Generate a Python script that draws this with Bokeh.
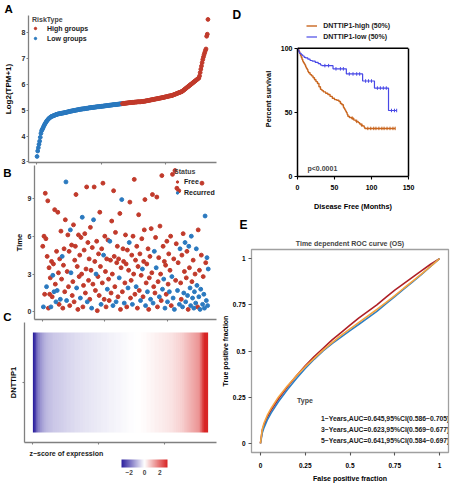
import math
import numpy as np
from bokeh.plotting import figure
from bokeh.layouts import row, column
from bokeh.models import (Range1d, FixedTicker, Legend, LegendItem, Label, Title, Span, Plot,
                          LinearAxis, ColorBar, LinearColorMapper, ColumnDataSource)
from bokeh.embed import file_html
from bokeh.resources import INLINE

FONT = "Liberation Sans"

# ---------------- Panel A: sorted DNTTIP1 expression ----------------
expr_values = [
    3.21, 3.42, 3.55, 3.68, 3.80, 3.95, 4.10, 4.20, 4.25, 4.30,
    4.36, 4.41, 4.46, 4.50, 4.54, 4.58, 4.61, 4.64, 4.67, 4.69,
    4.71, 4.73, 4.75, 4.76, 4.77, 4.78, 4.79, 4.80, 4.81, 4.82,
    4.83, 4.84, 4.85, 4.85, 4.86, 4.86, 4.87, 4.87, 4.88, 4.88,
    4.89, 4.89, 4.90, 4.90, 4.91, 4.91, 4.92, 4.93, 4.93, 4.94,
    4.95, 4.95, 4.96, 4.96, 4.97, 4.97, 4.98, 4.98, 4.99, 4.99,
    5.00, 5.00, 5.01, 5.01, 5.02, 5.02, 5.03, 5.03, 5.04, 5.04,
    5.04, 5.05, 5.05, 5.05, 5.06, 5.06, 5.07, 5.07, 5.07, 5.08,
    5.08, 5.09, 5.09, 5.09, 5.10, 5.10, 5.10, 5.11, 5.11, 5.11,
    5.12, 5.12, 5.12, 5.13, 5.13, 5.13, 5.13, 5.14, 5.14, 5.14,
    5.15, 5.15, 5.15, 5.16, 5.16, 5.16, 5.17, 5.17, 5.17, 5.18,
    5.18, 5.18, 5.19, 5.19, 5.19, 5.20, 5.20, 5.20, 5.21, 5.21,
    5.21, 5.21, 5.22, 5.22, 5.22, 5.23, 5.23, 5.23, 5.24, 5.24,
    5.24, 5.25, 5.25, 5.25, 5.26, 5.26, 5.26, 5.27, 5.27, 5.27,
    5.28, 5.28, 5.28, 5.29, 5.29, 5.29, 5.29, 5.30, 5.30, 5.30,
    5.30, 5.31, 5.31, 5.31, 5.31, 5.32, 5.32, 5.32, 5.32, 5.32,
    5.32, 5.33, 5.33, 5.33, 5.34, 5.34, 5.34, 5.35, 5.35, 5.36,
    5.36, 5.37, 5.37, 5.38, 5.38, 5.39, 5.39, 5.40, 5.40, 5.41,
    5.41, 5.42, 5.42, 5.43, 5.43, 5.44, 5.44, 5.45, 5.45, 5.46,
    5.46, 5.47, 5.47, 5.48, 5.48, 5.49, 5.49, 5.50, 5.51, 5.51,
    5.52, 5.52, 5.53, 5.54, 5.54, 5.55, 5.55, 5.56, 5.56, 5.57,
    5.58, 5.59, 5.60, 5.61, 5.62, 5.63, 5.64, 5.65, 5.66, 5.67,
    5.68, 5.69, 5.70, 5.71, 5.72, 5.74, 5.76, 5.78, 5.80, 5.82,
    5.84, 5.86, 5.88, 5.90, 5.92, 5.94, 5.96, 5.98, 6.00, 6.02,
    6.04, 6.06, 6.08, 6.10, 6.12, 6.14, 6.16, 6.18, 6.20, 6.22,
    6.24, 6.32, 6.45, 6.58, 6.70, 6.83, 6.95, 7.05, 7.14, 7.22,
    7.30, 7.36, 7.85, 7.93, 8.50,
]
n_low_group = 132
risk_labels = ["High groups", "Low groups"]
risk_title = "RiskType"
expr_ticks = [3, 4, 5, 6, 7, 8]
rank_ticks = [0, 100, 200]

# ---------------- Panel B: follow-up time and status ----------------
time_values = [
    5.2, 0.4, 6.0, 1.4, 9.4, 5.8, 2.0, 4.4, 8.8, 0.3,
    3.5, 1.4, 2.7, 0.4, 4.0, 1.2, 2.9, 3.8, 1.6, 8.1,
    2.2, 0.8, 4.8, 1.7, 7.9, 3.1, 0.6, 4.2, 1.0, 6.4,
    2.6, 4.4, 0.3, 3.7, 5.0, 1.6, 7.3, 10.3, 0.9, 3.2,
    6.1, 2.0, 4.8, 0.5, 6.5, 3.1, 5.3, 1.3, 2.4, 6.9,
    0.8, 4.1, 5.2, 9.3, 1.9, 3.6, 0.2, 6.1, 2.8, 4.5,
    1.1, 5.9, 3.0, 7.5, 0.4, 2.1, 4.9, 6.2, 1.5, 3.4,
    9.9, 0.8, 5.5, 2.5, 4.2, 1.0, 6.7, 3.3, 0.3, 5.1,
    2.2, 7.3, 9.9, 4.0, 1.7, 3.0, 5.6, 0.1, 2.8, 4.6,
    1.3, 7.9, 3.6, 0.6, 5.0, 2.3, 10.2, 4.5, 1.0, 6.0,
    3.2, 0.4, 4.2, 1.8, 5.7, 2.6, 0.9, 5.6, 4.1, 1.5,
    7.2, 3.0, 0.5, 9.6, 4.4, 2.0, 6.3, 0.8, 3.9, 5.2,
    1.2, 4.2, 2.7, 7.8, 0.2, 3.5, 8.9, 1.6, 5.0, 4.0,
    0.7, 2.3, 6.1, 3.8, 0.4, 4.9, 1.9, 3.3, 5.5, 8.7,
    1.1, 2.5, 4.5, 0.6, 6.0, 3.0, 10.5, 1.4, 4.1, 2.0,
    5.2, 0.3, 3.6, 7.7, 1.7, 4.6, 0.9, 2.9, 5.8, 3.4,
    1.2, 4.0, 6.5, 8.9, 0.5, 2.3, 3.8, 1.6, 5.0, 0.2,
    2.7, 4.4, 1.0, 6.6, 3.1, 9.3, 0.7, 2.0, 4.8, 1.5,
    5.9, 3.5, 9.1, 0.4, 2.4, 4.3, 1.2, 6.8, 3.0, 0.9,
    10.8, 1.8, 5.2, 2.6, 4.0, 0.3, 3.7, 1.4, 5.6, 0.8,
    2.2, 4.6, 1.6, 3.3, 6.0, 0.5, 2.8, 10.9, 1.1, 4.2,
    0.2, 11.2, 2.5, 5.4, 9.8, 1.7, 3.9, 9.6, 0.6, 5.0,
    2.3, 1.0, 4.5, 0.4, 6.2, 1.5, 3.2, 5.5, 0.8, 2.7,
    4.8, 1.3, 0.2, 5.2, 3.5, 1.9, 0.5, 6.0, 2.4, 1.1,
    4.1, 0.3, 1.6, 3.0, 0.7, 5.0, 2.1, 0.4, 6.5, 1.2,
    3.3, 0.2, 1.8, 4.5, 10.2, 0.6, 2.8, 1.4, 0.3, 7.6,
    3.9, 0.9, 4.3, 0.5, 3.4,
]
status_recurred = [
    0, 1, 0, 0, 0, 0, 1, 0, 0, 0,
    0, 0, 0, 1, 0, 0, 1, 0, 1, 0,
    0, 1, 0, 1, 0, 0, 0, 0, 1, 0,
    0, 1, 0, 0, 0, 0, 0, 1, 1, 0,
    0, 0, 0, 0, 1, 1, 0, 0, 0, 0,
    0, 0, 0, 0, 1, 0, 0, 0, 0, 0,
    1, 0, 0, 1, 0, 0, 0, 0, 0, 0,
    0, 1, 0, 0, 0, 0, 0, 0, 1, 0,
    0, 1, 0, 0, 0, 1, 0, 0, 0, 0,
    0, 0, 0, 1, 0, 0, 0, 1, 0, 0,
    0, 0, 0, 1, 0, 0, 0, 1, 0, 0,
    0, 0, 1, 0, 0, 0, 0, 1, 0, 0,
    0, 0, 1, 0, 0, 0, 1, 0, 0, 0,
    1, 0, 0, 0, 0, 0, 1, 0, 1, 0,
    0, 0, 0, 1, 0, 0, 0, 0, 0, 1,
    0, 0, 0, 0, 0, 0, 1, 0, 0, 1,
    0, 0, 0, 0, 1, 0, 0, 1, 0, 0,
    0, 0, 1, 0, 0, 0, 1, 0, 1, 0,
    0, 1, 0, 0, 0, 0, 1, 0, 0, 0,
    0, 1, 0, 1, 0, 1, 0, 0, 0, 1,
    0, 0, 1, 0, 0, 0, 1, 0, 1, 0,
    1, 0, 0, 0, 0, 1, 0, 0, 1, 1,
    0, 0, 0, 1, 0, 1, 0, 1, 1, 0,
    0, 1, 0, 1, 0, 1, 1, 1, 0, 1,
    0, 1, 1, 0, 1, 1, 1, 0, 0, 1,
    0, 1, 1, 0, 0, 1, 0, 1, 1, 1,
    0, 1, 1, 1, 1,
]
status_labels = ["Free", "Recurred"]
status_title = "Status"
time_ticks = [0, 3, 6, 9]

# ---------------- Panel C ----------------
gene_label = "DNTTIP1"
zscore_title = "z\u2212score of expression"
zscore_ticks = [-2, 0, 2]

# ---------------- Panel D: Kaplan-Meier (disease free) ----------------
km_high_months = [0, 1, 2, 3, 4, 5, 6, 7, 8, 9, 10, 11, 12, 13, 14, 15, 17, 19, 21, 23,
                  25, 27, 29, 31, 33, 35, 38, 41, 44, 47, 50, 53, 56, 58, 60, 62, 63, 64,
                  65, 66, 67, 68, 70, 73, 76, 79, 82, 84, 86, 88, 90, 91, 132]
km_high_surv = [100, 99, 97.5, 96, 94.5, 93, 91.5, 90, 89, 88, 87, 85.5, 84.5, 83.5, 82, 81,
                79.5, 78.5, 77, 75.5, 74, 72.5, 70, 68, 67, 66, 65, 64, 62.5, 61, 60, 59.5,
                58.5, 57, 56, 54, 53, 52, 51, 50, 48.5, 47, 46, 45.5, 44, 43, 42, 41, 40,
                39.5, 38.5, 37.5, 37.5]
km_low_months = [0, 1, 2, 3, 5, 7, 9, 11, 14, 17, 20, 24, 28, 31, 33, 48, 66, 88, 104, 123, 134]
km_low_surv = [100, 98.5, 97, 96, 95, 94, 93, 92.5, 91.5, 90.5, 90, 89, 88, 87, 86.5, 84,
               80, 74.5, 69, 51.5, 51.5]
cens_high_months = [74, 80, 87, 95, 99, 103, 106, 110, 114, 117, 121, 125, 129, 132]
cens_high_surv = [45.5, 43, 40, 37.5, 37.5, 37.5, 37.5, 37.5, 37.5, 37.5, 37.5, 37.5, 37.5, 37.5]
cens_low_months = [37, 42, 52, 58, 62, 70, 75, 80, 84, 92, 96, 100, 108, 112, 116, 120, 127, 131, 134]
cens_low_surv = [86.5, 86.5, 84, 84, 84, 80, 80, 80, 80, 74.5, 74.5, 74.5, 69, 69, 69, 69,
                 51.5, 51.5, 51.5]
km_labels = ["DNTTIP1-high (50%)", "DNTTIP1-low (50%)"]
p_value_text = "p<0.0001"
km_x_ticks = [0, 50, 100, 150]
km_y_ticks = [0, 50, 100]
km_x_max = 150
km_y_max = 100

# ---------------- Panel E: time dependent ROC ----------------
roc_fpr = [0, 0.01, 0.02, 0.04, 0.06, 0.10, 0.15, 0.20, 0.25, 0.30, 0.35, 0.40, 0.45,
           0.50, 0.55, 0.60, 0.65, 0.70, 0.75, 0.80, 0.85, 0.90, 0.95, 1.0]
roc_tpr_1y = [0, 0.07, 0.10, 0.145, 0.18, 0.24, 0.305, 0.365, 0.42, 0.47, 0.515, 0.56, 0.60,
              0.64, 0.68, 0.715, 0.75, 0.79, 0.83, 0.865, 0.90, 0.935, 0.97, 1.0]
roc_tpr_3y = [0, 0.055, 0.085, 0.13, 0.165, 0.225, 0.29, 0.35, 0.405, 0.455, 0.50, 0.54, 0.575,
              0.61, 0.645, 0.68, 0.715, 0.755, 0.795, 0.835, 0.875, 0.915, 0.958, 1.0]
roc_tpr_5y = [0, 0.075, 0.11, 0.155, 0.19, 0.25, 0.31, 0.365, 0.415, 0.46, 0.505, 0.545, 0.585,
              0.62, 0.655, 0.69, 0.725, 0.762, 0.80, 0.84, 0.878, 0.918, 0.958, 1.0]
roc_labels = ["1\u2212Years,AUC=0.645,95%CI(0.586\u22120.705)",
              "3\u2212Years,AUC=0.623,95%CI(0.569\u22120.677)",
              "5\u2212Years,AUC=0.641,95%CI(0.584\u22120.697)"]
roc_title = "Time dependent ROC curve (OS)"
roc_ticks = [0, 0.25, 0.5, 0.75, 1]
roc_tick_text = {0: "0", 0.25: "0.25", 0.5: "0.5", 0.75: "0.75", 1: "1"}

# ---------------- styling ----------------
RED = "#C13A2B"
BLUE = "#2A79BF"
KM_HIGH = "#C9661F"
KM_LOW = "#4848E6"
ROC_COLORS = ["#AE1F26", "#2E7FC3", "#F4A33E"]
GRAY = "#808080"
LEFT = 24          # frame left border of the left-hand panels
W_LEFT = 218       # width of the left-hand column
W_RIGHT = 234      # width of the right-hand column
HAS_FRAME_ALIGN = "frame_align" in Plot.properties()


def style_axis(ax, size="7px", line_color=GRAY, tick_out=2, standoff=1):
    ax.axis_line_color = line_color
    ax.axis_line_width = 1.3
    ax.major_tick_line_color = line_color
    ax.major_tick_line_width = 1.1
    ax.major_tick_in = 0
    ax.major_tick_out = tick_out
    ax.minor_tick_line_color = None
    ax.major_label_standoff = standoff
    ax.major_label_text_font = FONT
    ax.major_label_text_font_size = size
    ax.major_label_text_font_style = "bold"
    ax.major_label_text_color = "#2a2a2a"
    ax.axis_label_text_font = FONT
    ax.axis_label_text_font_style = "bold"
    ax.axis_label_text_font_size = "8px"
    ax.axis_label_text_color = "black"


def hide_labels(ax, ticks):
    ax.major_label_overrides = {t: "" for t in ticks}
    ax.major_label_text_font_size = "1px"
    ax.major_label_standoff = 0


def letter_title(p, text, offset, standoff, size="12px"):
    p.add_layout(Title(text=text, align="left", offset=offset, standoff=standoff,
                       text_font=FONT, text_font_size=size, text_font_style="bold",
                       text_color="black"), "above")


def legend_style(lg, size="7px"):
    lg.label_text_font = FONT
    lg.label_text_font_size = size
    lg.label_text_font_style = "bold"
    lg.label_text_color = "#1a1a1a"
    lg.title_text_font = FONT
    lg.title_text_font_size = size
    lg.title_text_font_style = "bold"
    lg.background_fill_alpha = 0
    lg.border_line_alpha = 0
    lg.padding = 0
    lg.margin = 0
    lg.spacing = 0


def base_fig(**kw):
    p = figure(output_backend="svg", toolbar_location=None, title_location=None, **kw)
    if HAS_FRAME_ALIGN:
        p.frame_align = False
    return p


n = len(expr_values)
rank = list(range(1, n + 1))
X_RANGE = (-12.2, 278.2)

# ---------------- A ----------------
pA = base_fig(width=W_LEFT, height=165, x_range=Range1d(*X_RANGE), y_range=Range1d(2.977, 8.652),
              min_border_left=LEFT, min_border_right=2, min_border_top=14, min_border_bottom=3)
pA.grid.visible = False
pA.outline_line_color = None
srcA_low = ColumnDataSource(dict(x=rank[:n_low_group], y=expr_values[:n_low_group]))
srcA_high = ColumnDataSource(dict(x=rank[n_low_group:], y=expr_values[n_low_group:]))
rA_low = pA.scatter("x", "y", source=srcA_low, size=3.8, color=BLUE)
rA_high = pA.scatter("x", "y", source=srcA_high, size=3.8, color=RED)
style_axis(pA.yaxis[0])
style_axis(pA.xaxis[0])
hide_labels(pA.xaxis[0], rank_ticks)
pA.yaxis.ticker = FixedTicker(ticks=expr_ticks)
pA.xaxis.ticker = FixedTicker(ticks=rank_ticks)
pA.yaxis.axis_label = "Log2(TPM+1)"
pA.yaxis.axis_label_standoff = 6
lgA = Legend(items=[LegendItem(label=risk_labels[0], renderers=[rA_high]),
                    LegendItem(label=risk_labels[1], renderers=[rA_low])],
             location=(4, 119), title=risk_title)
legend_style(lgA)
lgA.glyph_width = 6
lgA.glyph_height = 10
lgA.label_height = 10
lgA.label_standoff = 9
lgA.title_standoff = 0
pA.add_layout(lgA)
letter_title(pA, "A", -LEFT, 1, size="11.5px")

# ---------------- B ----------------
pB = base_fig(width=W_LEFT, height=157, x_range=Range1d(*X_RANGE), y_range=Range1d(-0.6, 11.6),
              min_border_left=LEFT, min_border_right=2, min_border_top=0, min_border_bottom=3)
pB.grid.visible = False
pB.outline_line_color = None
free_x = [r for r, s in zip(rank, status_recurred) if s == 0]
free_y = [t for t, s in zip(time_values, status_recurred) if s == 0]
rec_x = [r for r, s in zip(rank, status_recurred) if s == 1]
rec_y = [t for t, s in zip(time_values, status_recurred) if s == 1]
rB_free = pB.scatter(free_x, free_y, size=3.9, color=RED)
rB_rec = pB.scatter(rec_x, rec_y, size=3.9, color=BLUE)
style_axis(pB.yaxis[0])
style_axis(pB.xaxis[0])
hide_labels(pB.xaxis[0], rank_ticks)
pB.yaxis.ticker = FixedTicker(ticks=time_ticks)
pB.xaxis.ticker = FixedTicker(ticks=rank_ticks)
pB.yaxis.axis_label = "Time"
pB.yaxis.axis_label_text_font_size = "7.5px"
pB.yaxis.axis_label_standoff = 1
# outer left axis that carries the panel letters B and C
letter_axis = LinearAxis(ticker=FixedTicker(ticks=[11, -0.4]),
                         major_label_overrides={11: "B", -0.4: "C"},
                         axis_line_color=None, major_tick_line_color=None,
                         minor_tick_line_color=None, major_tick_in=0, major_tick_out=0,
                         major_label_standoff=0, major_label_text_font=FONT,
                         major_label_text_font_size="11.5px",
                         major_label_text_font_style="bold", major_label_text_color="black")
pB.add_layout(letter_axis, "left")
lgB = Legend(items=[LegendItem(label=status_labels[0], renderers=[rB_free]),
                    LegendItem(label=status_labels[1], renderers=[rB_rec])],
             location=(140, 121.5), title=status_title)
legend_style(lgB)
lgB.glyph_width = 6
lgB.glyph_height = 11
lgB.label_height = 11
lgB.label_standoff = 4
lgB.title_standoff = 1
pB.add_layout(lgB)

# ---------------- C ----------------
arr = np.array(expr_values)
zscores = (arr - arr.mean()) / arr.std(ddof=1)


def lerp(c1, c2, t):
    return tuple(int(round(a + (b - a) * t)) for a, b in zip(c1, c2))


c_blue, c_white, c_red = (44, 31, 158), (255, 255, 255), (216, 36, 36)
palette = []
for i in range(256):
    t = i / 255
    c = lerp(c_blue, c_white, t / 0.5) if t < 0.5 else lerp(c_white, c_red, (t - 0.5) / 0.5)
    palette.append("#%02x%02x%02x" % c)
mapper = LinearColorMapper(palette=palette, low=-3, high=3)

pC = base_fig(width=W_LEFT, height=123, x_range=Range1d(*X_RANGE), y_range=Range1d(0.4, 1.6),
              min_border_left=LEFT, min_border_right=2, min_border_top=0, min_border_bottom=3)
pC.grid.visible = False
pC.outline_line_color = None
pC.image(image=[zscores.reshape(1, -1)], x=0.5, y=0.5, dw=n, dh=1, color_mapper=mapper)
style_axis(pC.yaxis[0])
style_axis(pC.xaxis[0])
hide_labels(pC.xaxis[0], rank_ticks)
hide_labels(pC.yaxis[0], [1])
pC.xaxis.ticker = FixedTicker(ticks=rank_ticks)
pC.yaxis.ticker = FixedTicker(ticks=[1])
pC.yaxis.axis_label = gene_label
pC.yaxis.axis_label_text_font_size = "7.5px"
pC.yaxis.axis_label_standoff = 5

# strip with z-score title and colour bar (same side borders as the panels above)
pS = base_fig(width=W_LEFT, height=39, x_axis_location=None, y_axis_location=None,
              min_border_left=LEFT, min_border_right=2, min_border_top=0, min_border_bottom=0)
pS.outline_line_color = None
pS.grid.visible = False
pS.add_layout(Label(x=5, y=31, x_units="screen", y_units="screen", text=zscore_title,
                    text_font=FONT, text_font_size="7px", text_font_style="bold",
                    text_baseline="middle", text_color="#1a1a1a"))
cb = ColorBar(color_mapper=mapper, orientation="horizontal", width=46, height=8,
              location=(97, 7), padding=0, ticker=FixedTicker(ticks=zscore_ticks),
              major_tick_line_color=None, bar_line_color=None, label_standoff=2,
              major_label_text_font=FONT, major_label_text_font_size="6.5px",
              major_label_text_font_style="bold", background_fill_alpha=0,
              border_line_color=None)
pS.add_layout(cb)

# ---------------- D ----------------
pD = base_fig(width=W_RIGHT, height=213, x_range=Range1d(0, km_x_max), y_range=Range1d(0, 120.93),
              min_border_left=79, min_border_right=44, min_border_top=21, min_border_bottom=36)
pD.grid.visible = False
pD.outline_line_color = None
rD_high = pD.step(km_high_months, km_high_surv, mode="after", line_color=KM_HIGH, line_width=1.4)
rD_low = pD.step(km_low_months, km_low_surv, mode="after", line_color=KM_LOW, line_width=1.2)
pD.scatter(cens_high_months, cens_high_surv, marker="dash", angle=math.pi / 2, size=3.5,
           line_color=KM_HIGH, line_width=1)
pD.scatter(cens_low_months, cens_low_surv, marker="dash", angle=math.pi / 2, size=3.5,
           line_color=KM_LOW, line_width=1)
for ax in (pD.xaxis[0], pD.yaxis[0]):
    style_axis(ax, size="7px", line_color="black", tick_out=3, standoff=2)
    ax.axis_line_width = 1.5
    ax.major_label_text_color = "black"
    ax.axis_label_text_font_size = "7.3px"
pD.xaxis.ticker = FixedTicker(ticks=km_x_ticks)
pD.yaxis.ticker = FixedTicker(ticks=km_y_ticks)
pD.yaxis.bounds = (0, km_y_max)
pD.xaxis.major_label_standoff = 5
pD.xaxis.axis_label = "Disease Free (Months)"
pD.xaxis.axis_label_standoff = 9
pD.yaxis.axis_label = "Percent survival"
pD.yaxis.axis_label_standoff = 5
# right and top edges of the box
pD.add_layout(LinearAxis(bounds=(0, km_y_max), ticker=FixedTicker(ticks=[]),
                         axis_line_color="black", axis_line_width=1.5,
                         major_tick_in=0, major_tick_out=0, major_label_standoff=0,
                         minor_tick_line_color=None), "right")
pD.add_layout(Span(location=km_y_max, dimension="width", line_color="black", line_width=1.5))
lgD = Legend(items=[LegendItem(label=km_labels[0], renderers=[rD_high]),
                    LegendItem(label=km_labels[1], renderers=[rD_low])],
             location=(9.2, 133.7))
legend_style(lgD)
lgD.glyph_width = 11
lgD.glyph_height = 11
lgD.label_height = 11
lgD.label_standoff = 6
pD.add_layout(lgD)
pD.add_layout(Label(x=10, y=7.6, x_units="screen", y_units="screen", text=p_value_text,
                    text_font=FONT, text_font_size="7px", text_font_style="bold",
                    text_baseline="middle"))
letter_title(pD, "D", -65, 0, size="12px")

# ---------------- E ----------------
pE = base_fig(width=W_RIGHT, height=271, x_range=Range1d(-0.05, 1.05), y_range=Range1d(-0.05, 1.05),
              min_border_left=26, min_border_right=4, min_border_top=33, min_border_bottom=32)
pE.grid.visible = False
pE.outline_line_color = "#a0a0a0"
pE.outline_line_width = 1.3
pE.add_layout(Title(text=roc_title, align="center", standoff=6, text_font=FONT,
                    text_font_size="7px", text_font_style="bold"), "above")
for tpr, col in zip([roc_tpr_1y, roc_tpr_3y, roc_tpr_5y], ROC_COLORS):
    pE.line(roc_fpr, tpr, line_color=col, line_width=1.6)
key_renderers = [pE.line(x=[], y=[], line_color=col, line_width=3) for col in ROC_COLORS]
for ax in (pE.xaxis[0], pE.yaxis[0]):
    style_axis(ax, size="6.5px", line_color="#555555", tick_out=3, standoff=3)
    ax.axis_line_color = None
    ax.major_label_text_color = "black"
    ax.axis_label_text_font_size = "7px"
    ax.ticker = FixedTicker(ticks=roc_ticks)
    ax.major_label_overrides = roc_tick_text
pE.xaxis.major_label_standoff = 7
pE.xaxis.axis_label = "False positive fraction"
pE.xaxis.axis_label_standoff = 4
pE.yaxis.axis_label = "True positive fraction"
pE.yaxis.axis_label_standoff = 1
lgE = Legend(items=[LegendItem(label=lab, renderers=[r]) for lab, r in zip(roc_labels, key_renderers)],
             location=(46, 6), title="Type")
legend_style(lgE, size="6.8px")
lgE.title_text_font_size = "7px"
lgE.glyph_width = 8
lgE.glyph_height = 11
lgE.label_height = 11
lgE.label_standoff = 16
lgE.title_standoff = 9
pE.add_layout(lgE)
letter_title(pE, "E", -12, 5, size="12px")

if HAS_FRAME_ALIGN:
    layout = row(column(pA, pB, pC, pS), column(pD, pE))
else:
    layout = row(column(row(pA), row(pB), row(pC), row(pS)), column(row(pD), row(pE)))
open("out.html", "w").write(file_html(layout, INLINE))
